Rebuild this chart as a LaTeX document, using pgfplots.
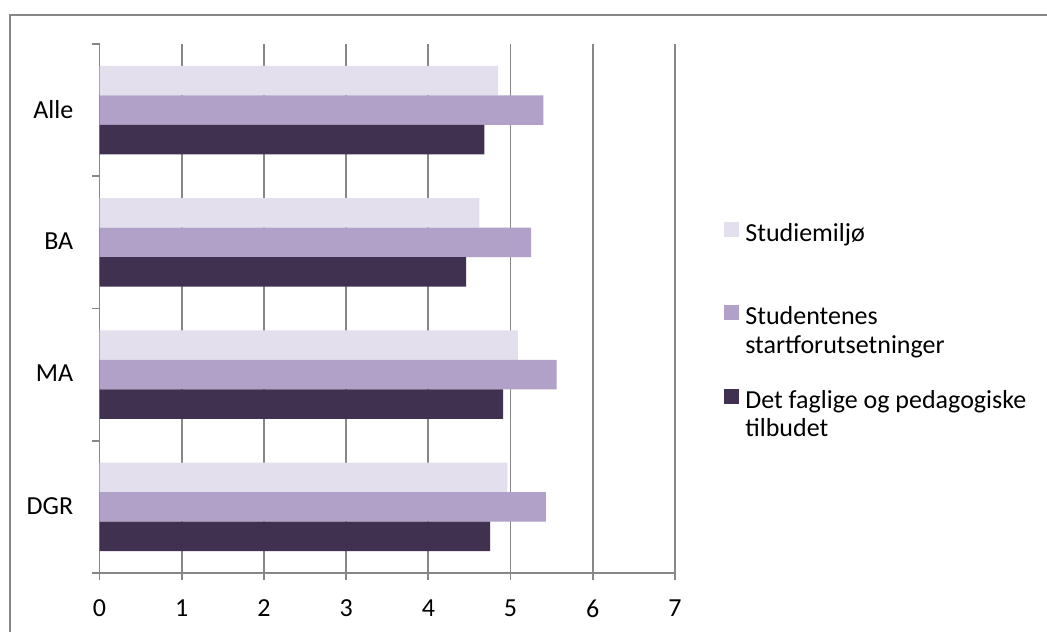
\documentclass[border=0pt]{standalone}
\usepackage{pgfplots}
\pgfplotsset{compat=1.18}
\usepackage{fontspec}
\setmainfont{Carlito}

\definecolor{miljo}{HTML}{E4DFEC}
\definecolor{start}{HTML}{B1A0C7}
\definecolor{faglig}{HTML}{403151}
\definecolor{linegray}{HTML}{878787}

% legend entry: a small box on the first baseline; further lines hang below
\newcommand{\entry}[1]{\raisebox{0pt}[5pt][5pt]{\parbox[t]{150pt}{#1}}}

\begin{document}
\begin{tikzpicture}
\fontsize{13}{15.6}\selectfont
% page frame
\path[use as bounding box] (0,0) rectangle (523.5pt,316pt);
\draw[linegray, line width=0.8pt] (5pt,0pt) -- (5pt,308.6pt) -- (523.5pt,308.6pt);

\begin{axis}[
  at={(49.75pt,29.5pt)}, anchor=south west,
  scale only axis,
  width=287.75pt, height=264.5pt,
  xbar, bar width=14.75pt,
  xmin=0, xmax=7, ymin=-0.5, ymax=3.5,
  enlarge x limits=false, enlarge y limits=false,
  axis x line*=bottom, axis y line*=left,
  axis line style={linegray, line width=0.9pt, -},
  xtick={0,1,...,7},
  xmajorgrids,
  grid style={linegray, line width=0.9pt},
  tick style={linegray, line width=0.9pt},
  tick align=outside,
  major tick length=3.6pt,
  ytick={-0.5,0.5,1.5,2.5,3.5},
  yticklabels={},
  extra y ticks={0,1,2,3},
  extra y tick labels={DGR,MA,BA,Alle},
  extra y tick style={tick style={draw=none}, grid=none},
  /pgf/number format/assume math mode=true,
  tick label style={font=\fontsize{13}{15.6}\selectfont, text=black},
  xticklabel style={yshift=-5.4pt},
  yticklabel style={xshift=-5pt, yshift=0.5pt},
  legend cell align=left,
  legend style={at={(1.0851,0.665)}, anchor=north west, draw=none,
    fill=none, inner sep=0pt, row sep=30.1pt, column sep=3pt,
    nodes={inner sep=0pt, font=\fontsize{13}{14.2}\selectfont}},
  legend image code/.code={\fill[#1] (0pt,0.75pt) rectangle (7.5pt,8.25pt);},
]
\addplot[fill=miljo, draw=none, bar shift=14.75pt]
  coordinates {(4.96,0) (5.09,1) (4.62,2) (4.85,3)};
\addplot[fill=start, draw=none, bar shift=0pt]
  coordinates {(5.43,0) (5.56,1) (5.25,2) (5.40,3)};
\addplot[fill=faglig, draw=none, bar shift=-14.75pt]
  coordinates {(4.75,0) (4.91,1) (4.46,2) (4.68,3)};
\legend{
  \entry{Studiemiljø},
  \entry{Studentenes\\startforutsetninger},
  \entry{Det faglige og pedagogiske\\tilbudet}}
\end{axis}
\end{tikzpicture}
\end{document}
